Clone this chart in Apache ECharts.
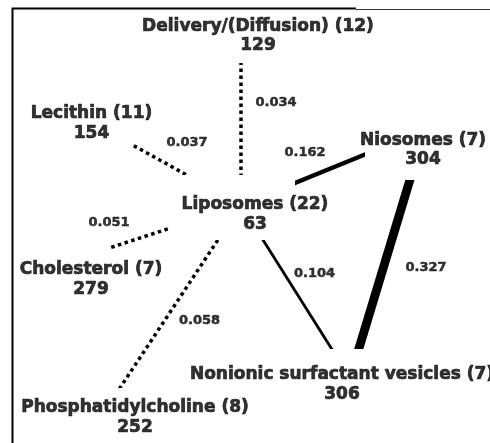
<!DOCTYPE html>
<html>
<head>
<meta charset="utf-8">
<script src="https://cdn.jsdelivr.net/npm/echarts@6/dist/echarts.min.js"></script>
<style>
html, body { margin: 0; padding: 0; background: #fff; }
#chart { width: 490px; height: 443px; }
</style>
</head>
<body>
<div id="chart"></div>
<script>
var names = ['Liposomes', 'Delivery/(Diffusion)', 'Lecithin', 'Niosomes', 'Cholesterol', 'Phosphatidylcholine', 'Nonionic surfactant vesicles'];
var counts = [22, 12, 11, 7, 7, 8, 7];
var ranks = [63, 129, 154, 304, 279, 252, 306];
// network layout, in the chart's own units (0-490 across, 0-443 down)
var nodeX = [241, 241, 100, 425, 100, 112, 350];
var nodeY = [205, 36, 127, 130, 251, 400, 378];
var linkSource = [0, 0, 0, 0, 0, 0, 3];
var linkTarget = [1, 2, 3, 4, 5, 6, 6];
var linkWeight = [0.034, 0.037, 0.162, 0.051, 0.058, 0.104, 0.327];

// placement of texts and of the white boxes that keep the edges off the texts
var labelOffset = [[14, 9.5], [17, 0], [-8.5, -3.5], [-2, 20], [-9, 28.5], [23, 17.5], [-8, 6.5]];
var maskSize = [[125, 65], [238, 49], [107, 50], [120, 55], [70, 24], [45, 24], [100, 56]];
var maskOffset = [[-8.5, 2.5], [18, 2.5], [-21.5, -2], [0, 22.5], [-25, -1], [5.5, 0], [0, -1]];
var weightOffset = [[35, -17.5], [16.5, -23], [-28, -14.5], [-61.5, -5], [23, 18.5], [19, -17.5], [38.5, 14]];

var font = 'DejaVu Sans';

function edgeStyle(w) {
	if (w < 0.1) {
		return { color: '#000', width: 3.5, type: [3.5, 3.5], cap: 'butt', opacity: 1 };
	}
	return { color: '#000', width: w * 27, type: 'solid', cap: 'butt', opacity: 1 };
}

var chart = echarts.init(document.getElementById('chart'));

var option = {
	animation: false,
	backgroundColor: '#fff',
	grid: { left: 0, right: 0, top: 0, bottom: 0 },
	xAxis: { type: 'value', min: 0, max: 490, show: false },
	yAxis: { type: 'value', min: 0, max: 443, inverse: true, show: false },
	graphic: [
		{ type: 'polyline', z: 100, shape: { points: [[12.5, 443], [12.5, 8.5], [356, 8.5]] }, style: { stroke: '#000', lineWidth: 2, fill: null } },
		{ type: 'line', z: 100, shape: { x1: 356, y1: 9.5, x2: 490, y2: 9.5 }, style: { stroke: '#333', lineWidth: 1.2 } }
	],
	series: [
		{
			type: 'graph',
			coordinateSystem: 'cartesian2d',
			z: 2,
			symbolSize: 1,
			itemStyle: { color: 'rgba(0,0,0,0)' },
			label: { show: false },
			emphasis: { disabled: true },
			data: names.map(function (n, i) {
				return { name: n, value: [nodeX[i], nodeY[i]] };
			}),
			links: linkSource.map(function (s, i) {
				return {
					source: names[s],
					target: names[linkTarget[i]],
					value: linkWeight[i],
					lineStyle: edgeStyle(linkWeight[i])
				};
			})
		},
		{
			// white boxes under the node texts
			type: 'scatter',
			z: 3,
			silent: true,
			symbol: 'rect',
			itemStyle: { color: '#fff', opacity: 1 },
			emphasis: { disabled: true },
			data: names.map(function (n, i) {
				return { value: [nodeX[i], nodeY[i]], symbolSize: maskSize[i], symbolOffset: maskOffset[i] };
			})
		},
		{
			// node texts
			type: 'scatter',
			z: 4,
			silent: true,
			symbolSize: 1,
			itemStyle: { color: 'rgba(0,0,0,0)' },
			emphasis: { disabled: true },
			data: names.map(function (n, i) {
				return {
					value: [nodeX[i], nodeY[i]],
					label: {
						show: true,
						position: 'inside',
						offset: labelOffset[i],
						formatter: n + ' (' + counts[i] + ')\n' + ranks[i]
					}
				};
			}),
			label: {
				color: '#000',
				fontFamily: font,
				fontWeight: 'bold',
				fontSize: 17,
				lineHeight: 19.5,
				align: 'center',
				textBorderColor: '#000',
				textBorderWidth: 0.7
			}
		},
		{
			// edge weights
			type: 'scatter',
			z: 5,
			silent: true,
			symbolSize: 1,
			itemStyle: { color: 'rgba(0,0,0,0)' },
			emphasis: { disabled: true },
			data: linkWeight.map(function (w, i) {
				var a = linkSource[i], b = linkTarget[i];
				return {
					value: [(nodeX[a] + nodeX[b]) / 2, (nodeY[a] + nodeY[b]) / 2],
					label: {
						show: true,
						position: 'inside',
						offset: weightOffset[i],
						formatter: w.toFixed(3)
					}
				};
			}),
			label: {
				color: '#000',
				fontFamily: font,
				fontWeight: 'bold',
				fontSize: 13,
				textBorderColor: '#000',
				textBorderWidth: 0.5
			}
		}
	]
};

chart.setOption(option);
</script>
</body>
</html>
